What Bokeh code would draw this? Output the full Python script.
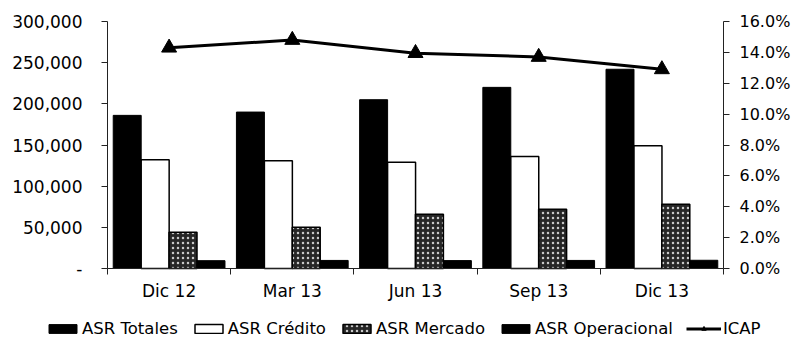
import numpy as np
from bokeh.plotting import figure
from bokeh.models import (ColumnDataSource, Range1d, LinearAxis, FixedTicker,
                          NumeralTickFormatter, Legend, LegendItem)
from bokeh.transform import dodge
from bokeh.embed import file_html
from bokeh.resources import INLINE

categories = ["Dic 12", "Mar 13", "Jun 13", "Sep 13", "Dic 13"]
asr_totales = [186000, 190000, 205000, 220000, 242000]
asr_credito = [132000, 131000, 129000, 136000, 149000]
asr_mercado = [44000, 50000, 66000, 72000, 78000]
asr_operacional = [9500, 9800, 9600, 9800, 10000]
icap = [0.143, 0.148, 0.1395, 0.137, 0.129]
left_ticks = [0, 50000, 100000, 150000, 200000, 250000, 300000]
right_ticks = [0.0, 0.02, 0.04, 0.06, 0.08, 0.10, 0.12, 0.14, 0.16]

n = len(categories)
x_pos = list(np.arange(n) + 0.5)
boundaries = list(np.arange(n + 1).astype(float))

src = ColumnDataSource(dict(x=x_pos, tot=asr_totales, cred=asr_credito,
                            merc=asr_mercado, oper=asr_operacional, icap=icap))

FONT = "DejaVu Sans"

# canvas geometry (pixels): plot area spans x 107..723, y 21..268
W_PX, H_PX = 797, 339
L, R, T, B = 107, 723, 21, 268
ymax_l, ymax_r = 300000, 0.16
xu = (R - L) / n
x_start, x_end = -L / xu, n + (W_PX - R) / xu
yl_u = (B - T) / ymax_l
yr_u = (B - T) / ymax_r
yl_start, yl_end = -(H_PX - B) / yl_u, ymax_l + T / yl_u
yr_start, yr_end = -(H_PX - B) / yr_u, ymax_r + T / yr_u

p = figure(width=W_PX, height=H_PX, output_backend="svg", toolbar_location=None,
           x_range=Range1d(x_start, x_end), y_range=Range1d(yl_start, yl_end),
           min_border=0)
p.outline_line_color = None
p.xgrid.visible = False
p.ygrid.visible = False
p.extra_y_ranges = {"pct": Range1d(yr_start, yr_end)}

W = 0.227
r_tot = p.vbar(x=dodge("x", -0.34, range=p.x_range), top="tot", width=W, source=src,
               fill_color="black", line_color="black")
r_cred = p.vbar(x=dodge("x", -0.113, range=p.x_range), top="cred", width=W, source=src,
                fill_color="white", line_color="black", line_width=1.5)
r_merc = p.vbar(x=dodge("x", 0.113, range=p.x_range), top="merc", width=W, source=src,
                fill_color="#262626", line_color="black", line_width=1.5,
                hatch_pattern="dot", hatch_color="#c8c8c8", hatch_scale=5)
r_oper = p.vbar(x=dodge("x", 0.34, range=p.x_range), top="oper", width=W, source=src,
                fill_color="black", line_color="black")
r_line = p.line(x="x", y="icap", source=src, y_range_name="pct",
                line_color="black", line_width=3)
r_mark = p.scatter(x="x", y="icap", source=src, y_range_name="pct", marker="triangle",
                   size=15, fill_color="black", line_color="black")

# bottom axis
xa = p.xaxis[0]
xa.fixed_location = 0
xa.bounds = (0, n)
xa.ticker = FixedTicker(ticks=x_pos, minor_ticks=boundaries)
xa.major_label_overrides = {float(x): c for x, c in zip(x_pos, categories)}
xa.major_tick_out = 0
xa.major_tick_in = 0
xa.minor_tick_out = 6
xa.minor_tick_in = 0
xa.major_label_standoff = 6
xa.major_label_text_font = FONT
xa.major_label_text_font_size = "17px"
xa.major_label_text_color = "black"
xa.axis_line_color = "#222222"
xa.minor_tick_line_color = "#222222"

# left axis
ya = p.yaxis[0]
ya.fixed_location = 0
ya.bounds = (0, ymax_l)
ya.ticker = FixedTicker(ticks=left_ticks, minor_ticks=[])
ya.formatter = NumeralTickFormatter(format="0,0")
ya.major_label_overrides = {0: "-"}
ya.major_tick_out = 6
ya.major_tick_in = 0
ya.major_label_standoff = 19
ya.major_label_text_font = FONT
ya.major_label_text_font_size = "17px"
ya.major_label_text_color = "black"
ya.axis_line_color = "#222222"
ya.major_tick_line_color = "#222222"

ra = LinearAxis(y_range_name="pct", ticker=FixedTicker(ticks=right_ticks, minor_ticks=[]),
                formatter=NumeralTickFormatter(format="0.0%"))
ra.fixed_location = n
ra.bounds = (0, ymax_r)
ra.major_tick_out = 6
ra.major_tick_in = 0
ra.major_label_standoff = 10
ra.major_label_text_font = FONT
ra.major_label_text_font_size = "16px"
ra.major_label_text_color = "black"
ra.axis_line_color = "#222222"
ra.major_tick_line_color = "#222222"
p.add_layout(ra, "right")

legend = Legend(items=[
    LegendItem(label="ASR Totales", renderers=[r_tot]),
    LegendItem(label="ASR Crédito", renderers=[r_cred]),
    LegendItem(label="ASR Mercado", renderers=[r_merc]),
    LegendItem(label="ASR Operacional", renderers=[r_oper]),
    LegendItem(label="ICAP", renderers=[r_line, r_mark]),
], orientation="horizontal", location=(45, 1))
legend.label_text_font = FONT
legend.label_text_font_size = "16.5px"
legend.label_text_color = "black"
legend.glyph_width = 35
legend.glyph_height = 11
legend.spacing = 13
legend.label_standoff = 2
legend.padding = 0
legend.margin = 0
legend.border_line_color = None
legend.background_fill_alpha = 0
p.add_layout(legend, "center")

open("out.html", "w").write(file_html(p, INLINE))
